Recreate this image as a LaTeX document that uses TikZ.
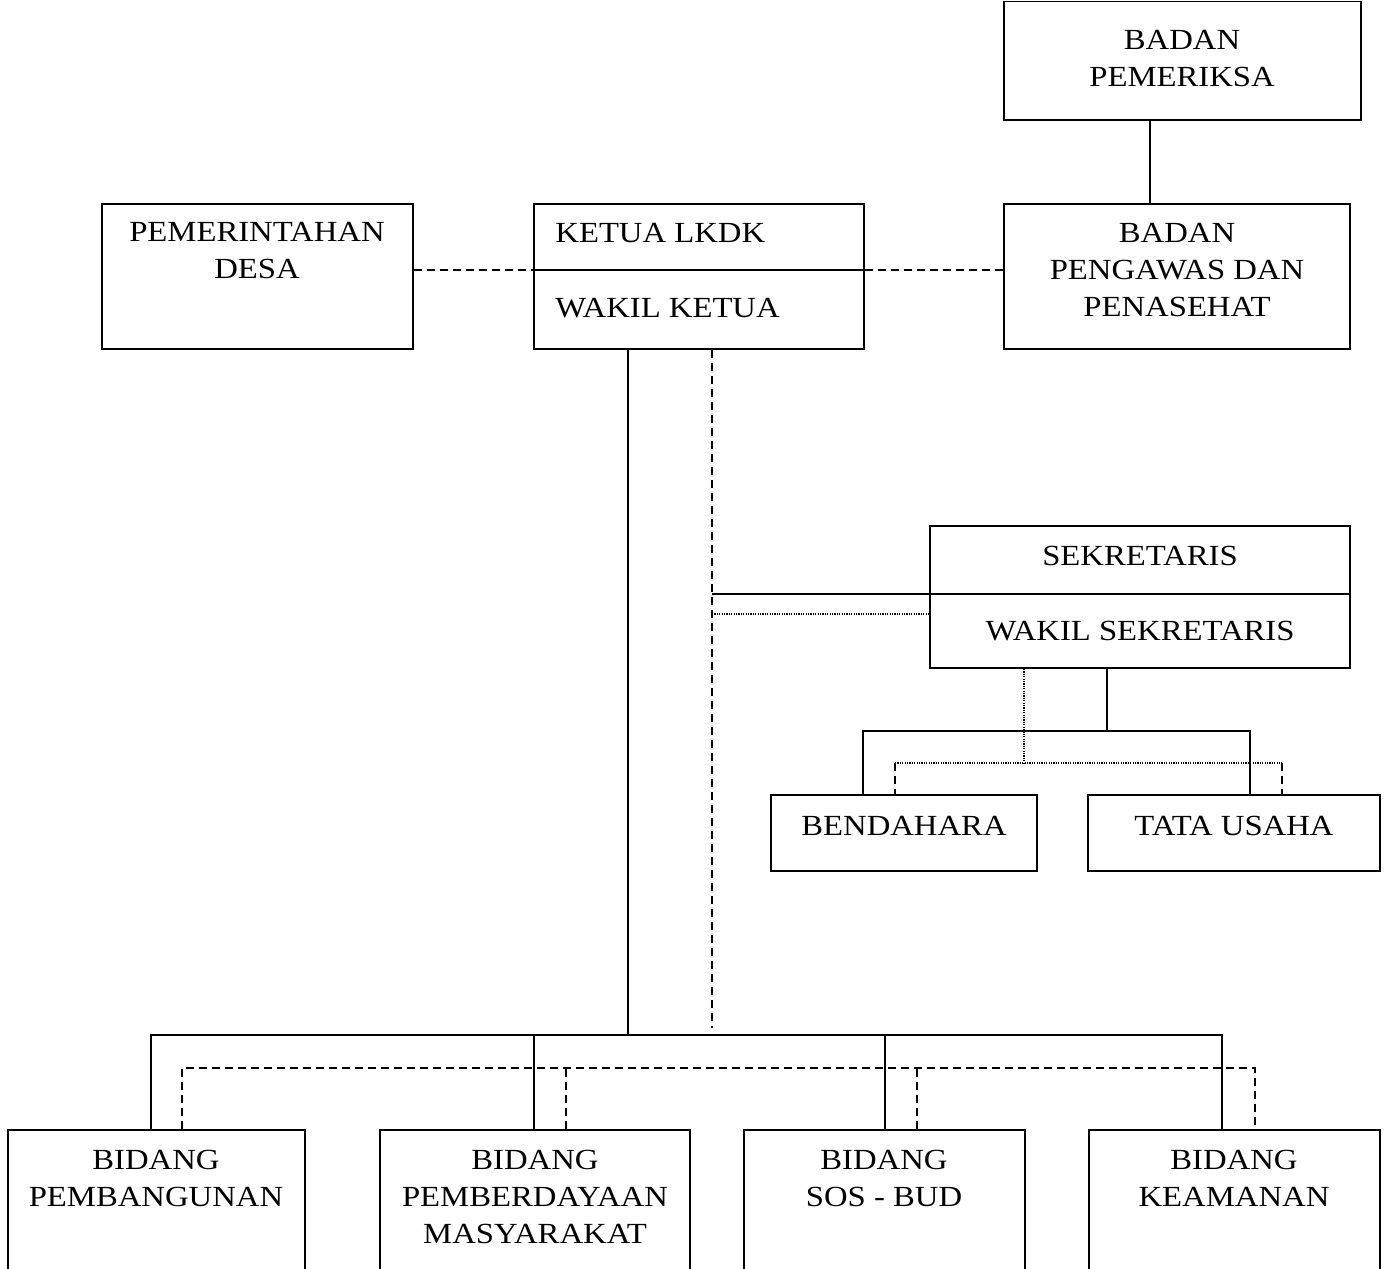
\documentclass[tikz,border=0pt]{standalone}
\usepackage{fontspec}
\setmainfont{Liberation Serif}[FakeStretch=1.12]
\usetikzlibrary{fit}
\begin{document}
\begin{tikzpicture}[x=0.5pt,y=-0.5pt,
  box/.style={draw,line width=0.9pt,inner sep=0pt,rectangle},
  con/.style={line width=0.8pt},
  dsh/.style={line width=0.8pt,dash pattern=on 4pt off 2.5pt},
  dot/.style={line width=0.6pt,dash pattern=on 0.6pt off 0.6pt},
  txt/.style={align=center,inner sep=0pt,font=\fontsize{14.6}{18.5}\selectfont}]
\useasboundingbox (0,0) rectangle (1387,1269);
\clip (0,0) rectangle (1387,1269);
% boxes
\node[box, fit={(1004,1.5) (1361,120)}] (bp) {};
\node[box, fit={(102,204) (413,349)}] (pd) {};
\node[box, fit={(534,204) (864,349)}] (kt) {};
\node[box, fit={(1004,204) (1350,349)}] (bpp) {};
\node[box, fit={(930,526) (1350,668)}] (sk) {};
\node[box, fit={(771,795) (1037,871)}] (bd) {};
\node[box, fit={(1088,795) (1380,871)}] (tu) {};
\node[box, fit={(8,1130) (305,1300)}] (b1) {};
\node[box, fit={(380,1130) (690,1300)}] (b2) {};
\node[box, fit={(744,1130) (1025,1300)}] (b3) {};
\node[box, fit={(1089,1130) (1380,1300)}] (b4) {};
% dividers
\coordinate (kd) at (0,270);
\coordinate (sd) at (0,594);
\draw[con] (kt.west |- kd) -- (kt.east |- kd);
\draw[con] (sk.west |- sd) -- (sk.east |- sd);
% texts
\node[txt] (tbp) at (1182,58.5) {BADAN\\PEMERIKSA};
\node[txt] (tpd) at (257,251) {PEMERINTAHAN\\DESA};
\node[txt,anchor=west] (tk1) at (555,233) {KETUA LKDK};
\node[txt,anchor=west] (tk2) at (555,308) {WAKIL KETUA};
\node[txt] (tbpp) at (1177,270) {BADAN\\PENGAWAS DAN\\PENASEHAT};
\node[txt] (ts1) at (1140,556) {SEKRETARIS};
\node[txt] (ts2) at (1140,631) {WAKIL SEKRETARIS};
\node[txt] (tbd) at (904,826) {BENDAHARA};
\node[txt] (ttu) at (1234,826) {TATA USAHA};
\node[txt] (tb1) at (156,1178.5) {BIDANG\\PEMBANGUNAN};
\node[txt] (tb2) at (535,1197) {BIDANG\\PEMBERDAYAAN\\MASYARAKAT};
\node[txt] (tb3) at (884,1178.5) {BIDANG\\SOS - BUD};
\node[txt] (tb4) at (1234,1178.5) {BIDANG\\KEAMANAN};
% coordinates
\coordinate (cA) at (1150,0);
\coordinate (vk) at (628,0);
\coordinate (dEnd) at (712,1028);
\coordinate (yDot) at (0,614);
\coordinate (bus) at (0,1035);
\coordinate (dbus) at (0,1068);
\coordinate (v1) at (151,0);
\coordinate (v2) at (534,0);
\coordinate (v3) at (885,0);
\coordinate (v4) at (1222,0);
\coordinate (w1) at (182,0);
\coordinate (w2) at (566,0);
\coordinate (w3) at (917,0);
\coordinate (w4) at (1255,0);
\coordinate (s1) at (1107,0);
\coordinate (t1) at (0,731);
\coordinate (tL) at (863,0);
\coordinate (tR) at (1250,0);
\coordinate (d1) at (1024,0);
\coordinate (t2) at (0,763);
\coordinate (dL) at (895,0);
\coordinate (dR) at (1282,0);
% top connectors
\draw[con] (bp.south -| cA) -- (bpp.north -| cA);
\draw[dsh] (pd.east |- kd) -- (kt.west |- kd);
\draw[dsh] (kt.east |- kd) -- (bpp.west |- kd);
% ketua down
\draw[con] (kt.south -| vk) -- (vk |- bus);
\draw[dsh] (kt.south -| dEnd) -- (dEnd);
\draw[con] (dEnd |- sd) -- (sk.west |- sd);
\draw[dot] (dEnd |- yDot) -- (sk.west |- yDot);
% sekretaris tree
\draw[con] (sk.south -| s1) -- (s1 |- t1);
\draw[con] (bd.north -| tL) -- (tL |- t1) -- (tR |- t1) -- (tu.north -| tR);
\draw[dot] (sk.south -| d1) -- (d1 |- t2);
\draw[dot] (dL |- t2) -- (dR |- t2);
\draw[dsh] (dL |- t2) -- (bd.north -| dL);
\draw[dsh] (dR |- t2) -- (tu.north -| dR);
% bottom bus
\draw[con] (b1.north -| v1) -- (v1 |- bus) -- (v4 |- bus) -- (b4.north -| v4);
\draw[con] (b2.north -| v2) -- (v2 |- bus);
\draw[con] (b3.north -| v3) -- (v3 |- bus);
\draw[dsh] (b1.north -| w1) -- (w1 |- dbus) -- (w4 |- dbus) -- (b4.north -| w4);
\draw[dsh] (b2.north -| w2) -- (w2 |- dbus);
\draw[dsh] (b3.north -| w3) -- (w3 |- dbus);
\end{tikzpicture}
\end{document}
